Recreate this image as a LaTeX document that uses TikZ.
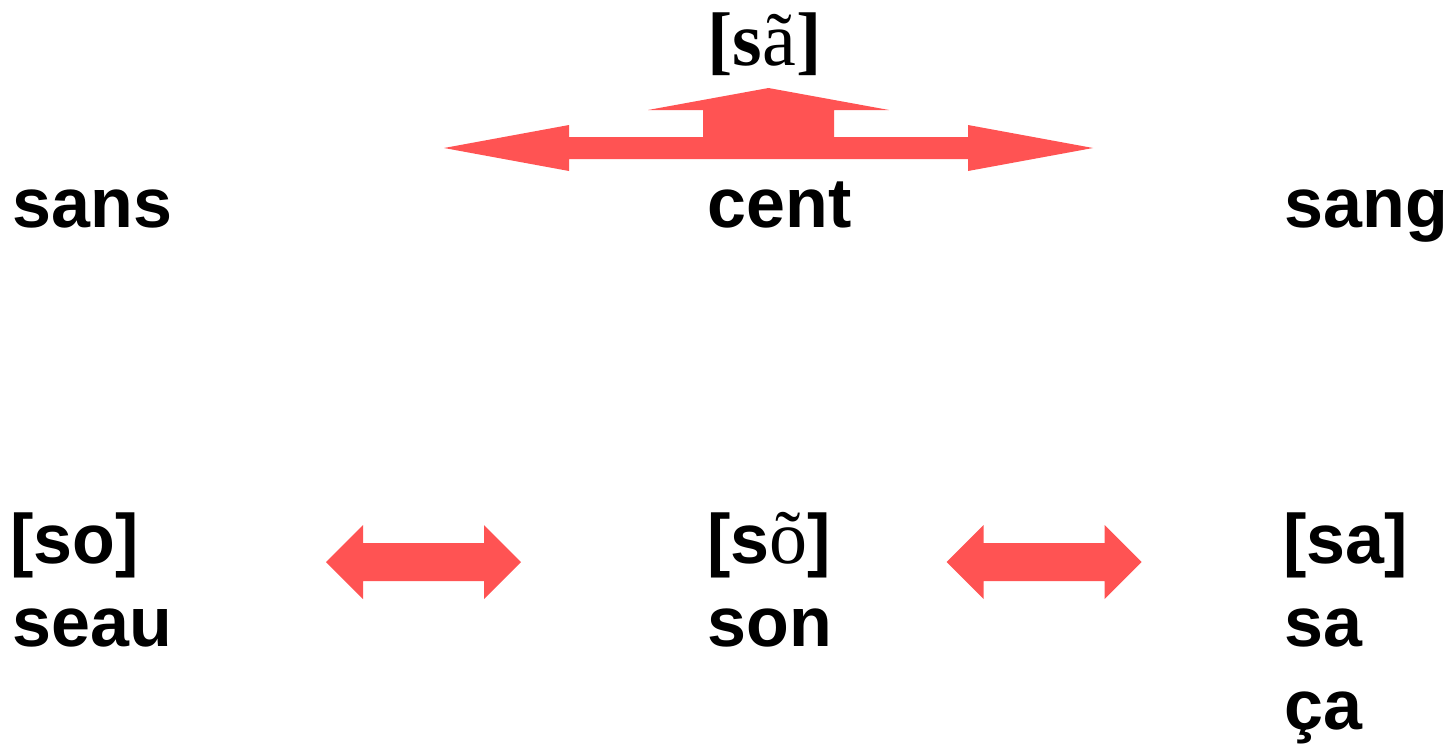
\documentclass[tikz,border=0pt]{standalone}
\usepackage{fontspec}
\setmainfont{Liberation Sans}
\newfontfamily\serifft{Liberation Serif}
\definecolor{arrowred}{RGB}{255,83,83}
\begin{document}
\begin{tikzpicture}[x=0.5pt,y=-0.5pt,
  word/.style={anchor=base west,inner sep=0pt,font=\fontsize{35}{42}\selectfont\bfseries},
  blockarrow/.style={fill=arrowred,draw=none}]
\useasboundingbox (0,0) rectangle (1449,744);
% top block arrow
\fill[blockarrow] (444,148) -- (569,125) -- (569,137) -- (703,137) -- (703,110) -- (648,110)
  -- (768.5,88) -- (889,110) -- (834,110) -- (834,137) -- (968,137) -- (968,125) -- (1093,148)
  -- (968,171) -- (968,159) -- (569,159) -- (569,171) -- cycle;
% small block arrows
\fill[blockarrow] (326,562) -- (363,525) -- (363,543) -- (484,543) -- (484,525) -- (521,562)
  -- (484,599) -- (484,581) -- (363,581) -- (363,599) -- cycle;
\fill[blockarrow] (946.5,562) -- (983.5,525) -- (983.5,543) -- (1104.5,543) -- (1104.5,525) -- (1141.5,562)
  -- (1104.5,599) -- (1104.5,581) -- (983.5,581) -- (983.5,599) -- cycle;
% texts
\node[word,font=\fontsize{38}{42}\selectfont\serifft] (sa1) at (707,65) {\textbf{[s}ã\textbf{]}};
\node[word] (sans) at (12,227) {sans};
\node[word] (cent) at (707,227) {cent};
\node[word] (sang) at (1284,227) {sang};
\node[word] (so) at (10,563) {[so]};
\node[word] (seau) at (12,646) {seau};
\node[word] (son1) at (707,563) {[s{\serifft\mdseries\fontsize{38}{42}\selectfont õ}]};
\node[word] (son) at (707,646) {son};
\node[word] (sa2) at (1283,563) {[sa]};
\node[word] (sa) at (1284,646) {sa};
\node[word] (ca) at (1284,729) {ça};
\end{tikzpicture}
\end{document}
